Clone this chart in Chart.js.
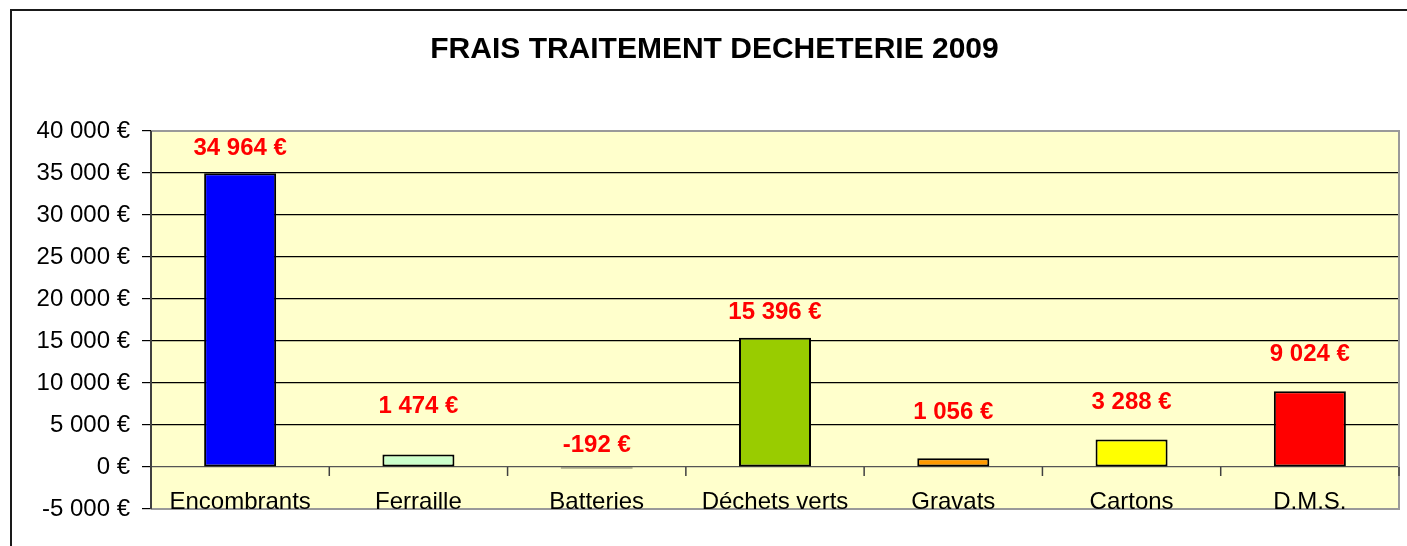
<!DOCTYPE html>
<html>
<head>
<meta charset="utf-8">
<script src="https://cdn.jsdelivr.net/npm/chart.js@4.4.1/dist/chart.umd.min.js"></script>
<style>
  html, body { margin: 0; padding: 0; background: #ffffff; }
  #wrap { position: relative; width: 1407px; height: 546px; }
</style>
</head>
<body>
<div id="wrap"><canvas id="c" width="1407" height="546"></canvas></div>
<script>
// ---- data ----
const chartTitle = 'FRAIS TRAITEMENT DECHETERIE 2009';
const categories = ['Encombrants', 'Ferraille', 'Batteries', 'Déchets verts', 'Gravats', 'Cartons', 'D.M.S.'];
const costs = [34964, 1474, -192, 15396, 1056, 3288, 9024];
const barColors = ['#0000FF', '#CCFFCC', '#99CC00', '#99CC00', '#FF9900', '#FFFF00', '#FF0000'];
const yMin = -5000;
const yMax = 40000;
const yStep = 5000;

function euro(v) {
  const s = String(Math.abs(Math.round(v))).replace(/\B(?=(\d{3})+(?!\d))/g, ' ');
  return (v < 0 ? '-' : '') + s + ' €';
}

const FONT = "'Liberation Sans', Arial, sans-serif";
const PAD_LEFT = 30;

const frame = {
  id: 'frame',
  beforeDraw(chart) {
    const { ctx, chartArea: a } = chart;
    ctx.save();
    ctx.strokeStyle = '#1a1a1a';
    ctx.lineWidth = 2;
    ctx.beginPath();
    ctx.moveTo(11, 600);
    ctx.lineTo(11, 10);
    ctx.lineTo(1500, 10);
    ctx.stroke();
    ctx.fillStyle = '#FFFFCC';
    ctx.fillRect(a.left, a.top, a.right - a.left, a.bottom - a.top);
    ctx.restore();
  },
  afterDatasetsDraw(chart) {
    const { ctx, chartArea: a, scales } = chart;
    const x = scales.x, y = scales.y;
    ctx.save();
    // plot border
    ctx.lineWidth = 2;
    ctx.strokeStyle = '#9a9a9a';
    ctx.beginPath();
    ctx.moveTo(a.left, a.top); ctx.lineTo(a.right, a.top); ctx.lineTo(a.right, a.bottom); ctx.lineTo(a.left, a.bottom);
    ctx.stroke();
    ctx.strokeStyle = '#404040';
    ctx.beginPath();
    ctx.moveTo(a.left, a.top); ctx.lineTo(a.left, a.bottom);
    ctx.stroke();
    // category tick marks on the zero axis
    const y0 = y.getPixelForValue(0);
    ctx.lineWidth = 1.5;
    ctx.strokeStyle = '#404040';
    for (let i = 0; i <= categories.length; i++) {
      let px;
      if (i === 0) px = a.left;
      else if (i === categories.length) px = a.right;
      else px = (x.getPixelForValue(i - 1) + x.getPixelForValue(i)) / 2;
      ctx.beginPath();
      ctx.moveTo(px, y0);
      ctx.lineTo(px, y0 + 9);
      ctx.stroke();
    }
    // value labels
    const lift = chart.options.plugins.frame.lift;
    const meta = chart.getDatasetMeta(0);
    ctx.fillStyle = '#FF0000';
    ctx.font = 'bold 24px ' + FONT;
    ctx.textAlign = 'center';
    ctx.textBaseline = 'middle';
    meta.data.forEach((el, i) => {
      const v = costs[i];
      const top = v >= 0 ? el.y : el.base;
      ctx.fillText(euro(v), el.x, top - lift[i]);
    });
    ctx.restore();
  }
};

new Chart(document.getElementById('c'), {
  type: 'bar',
  data: {
    labels: categories,
    datasets: [{
      data: costs,
      backgroundColor: barColors,
      borderColor: '#000000',
      borderWidth: 2,
      borderSkipped: false,
      barPercentage: 0.404,
      categoryPercentage: 1.0
    }]
  },
  plugins: [frame],
  options: {
    responsive: false,
    animation: false,
    devicePixelRatio: 1,
    layout: { padding: { left: PAD_LEFT, right: 8, top: 0, bottom: 0 } },
    plugins: {
      legend: { display: false },
      tooltip: { enabled: false },
      title: {
        display: true,
        text: chartTitle,
        color: '#000000',
        font: { family: FONT, size: 30, weight: 'bold' },
        padding: { top: 32, bottom: 63 }
      },
      frame: { lift: [25, 48, 22, 25, 46, 37, 37] }
    },
    scales: {
      x: {
        grid: { display: false, drawTicks: false },
        border: { display: false },
        ticks: {
          color: '#000000',
          font: { family: FONT, size: 24 },
          mirror: true,
          padding: -8,
          maxRotation: 0,
          autoSkip: false,
          z: 1
        },
        afterFit(s) { s.height = 37; }
      },
      y: {
        min: yMin,
        max: yMax,
        border: { display: false },
        grid: {
          color(ctx) {
            const v = ctx.tick.value;
            if (v === 0) return '#555555';
            if (v === yMax || v === yMin) return 'rgba(0,0,0,0)';
            return '#000000';
          },
          lineWidth: 1.2,
          tickColor: '#000000',
          tickLength: 9,
          drawTicks: true
        },
        ticks: {
          stepSize: yStep,
          color: '#000000',
          font: { family: FONT, size: 24 },
          padding: 12,
          callback: (v) => euro(v)
        },
        afterFit(s) { s.width = 151 - PAD_LEFT; }
      }
    }
  }
});
</script>
</body>
</html>
